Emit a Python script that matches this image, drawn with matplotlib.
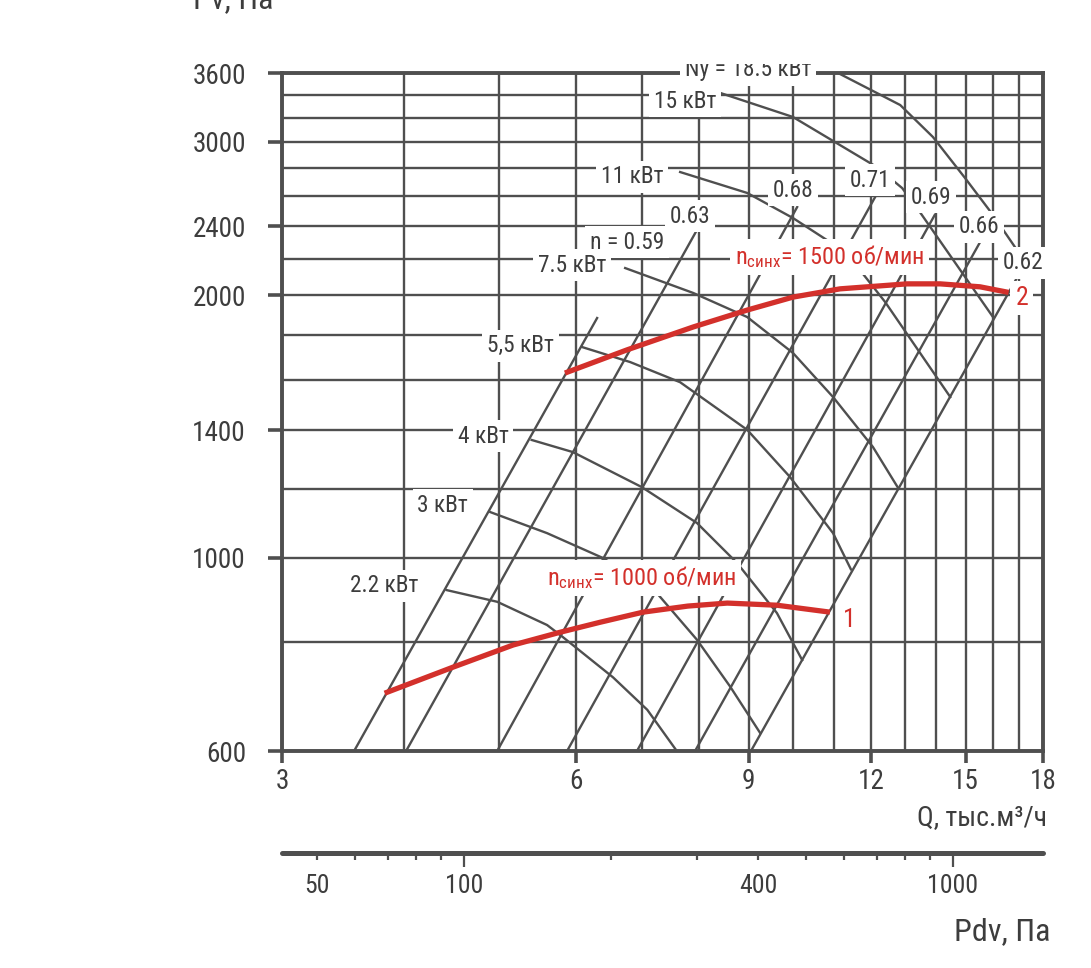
"""
Fan performance chart: Pv vs Q for n = 1000 and 1500 rpm,
with efficiency rays, motor power lines and a Pdv scale below.
"""
import matplotlib
matplotlib.use("Agg")
import matplotlib.pyplot as plt
from matplotlib.ticker import NullFormatter
from matplotlib.transforms import Bbox, TransformedBbox

FONTS = ["Roboto Condensed", "Liberation Sans Narrow", "Roboto", "DejaVu Sans"]
plt.rcParams.update({
    "font.family": FONTS,
    "mathtext.fontset": "custom",
    "mathtext.rm": "Roboto Condensed",
    "mathtext.it": "Roboto Condensed",
    "mathtext.default": "regular",
})

W, H = 1091, 968
GRAY = "#4f4f4f"
TEXT = "#3d3d3d"
RED = "#d3302b"

# axes, ticks and grid
Q_LIM = (3, 18)
P_LIM = (600, 3600)
Q_TICKS = [3, 6, 9, 12, 15, 18]
Q_GRID = [4, 5, 7, 8, 10, 11, 13, 14, 16, 17]
P_TICKS = [600, 1000, 1400, 2000, 2400, 3000, 3600]
P_GRID = [800, 1200, 1600, 1800, 2200, 2600, 2800, 3200, 3400]

# dynamic pressure scale (Pdv = k * Q^2)
PDV_K = 4.72
PDV_MAJOR = [100, 1000]
PDV_MINOR = [50, 60, 70, 80, 90, 200, 300, 400, 500, 600, 700, 800, 900]
PDV_MINOR_LABELS = ["50", "", "", "", "", "", "", "400", "", "", "", "", ""]

# fan curves
N1000_Q = [3.82, 4.49, 5.17, 5.77, 6.34, 7.02, 7.8, 8.56, 9.62, 10.9]
N1000_P = [699, 749, 794, 821, 843, 866, 880, 887, 882, 866]
N1500_Q = [5.84, 6.76, 7.90, 8.97, 9.99, 11.16, 13.07, 14.13, 15.52, 16.6]
N1500_P = [1629, 1732, 1840, 1924, 1991, 2035, 2062, 2062, 2046, 2016]

# efficiency rays: start at 600 Pa, end at (Q1, P1)
ETA_LABELS = ["η = 0.59", "0.63", "0.68", "0.71", "0.69", "0.66", "0.62"]
RAY_Q0 = [3.555, 4.018, 4.979, 5.870, 6.920, 7.934, 9.05]
RAY_Q1 = [6.30, 7.97, 10.09, 12.17, 13.95, 15.63, 17.01]
RAY_P1 = [1884, 2378, 2526, 2614, 2474, 2335, 2115]
ETA_LABEL_Q = [6.76, 7.84, 9.99, 11.98, 13.83, 15.49, 17.17]
ETA_LABEL_P = [2303, 2466, 2642, 2713, 2594, 2397, 2179]

# motor power lines
POWER_LABELS = ["2.2 кВт", "3 кВт", "4 кВт", "5,5 кВт", "7.5 кВт",
                "11 кВт", "15 кВт", "Ny = 18.5 кВт"]
POWER_Q = [
    [4.42, 4.98, 5.60, 5.81, 6.54, 7.09, 7.60],
    [4.90, 5.60, 6.39, 7.25, 7.97, 8.62, 9.25],
    [5.40, 5.95, 7.00, 7.97, 8.76, 9.62, 10.21],
    [6.08, 6.81, 7.66, 8.97, 9.92, 10.98, 11.45],
    [6.73, 7.90, 8.97, 9.99, 10.98, 12.06, 12.80],
    [7.66, 8.97, 9.99, 10.90, 11.70, 12.41, 14.47],
    [8.42, 9.99, 12.17, 12.92, 13.38, 16.00],
    [11.11, 12.86, 13.89, 14.98, 16.00, 16.93],
]
POWER_P = [
    [918, 890, 837, 811, 729, 669, 600],
    [1128, 1067, 999, 911, 805, 711, 629],
    [1365, 1322, 1205, 1096, 986, 864, 763],
    [1745, 1677, 1590, 1402, 1238, 1067, 970],
    [2150, 2013, 1889, 1718, 1529, 1340, 1202],
    [2771, 2622, 2454, 2303, 2138, 1966, 1529],
    [3415, 3205, 2808, 2656, 2520, 1889],
    [3600, 3308, 3040, 2728, 2474, 2255],
]
POWER_LABEL_Q = [3.82, 4.38, 4.82, 5.26, 5.94, 6.84, 7.75, 8.99]
POWER_LABEL_P = [928, 1149, 1379, 1750, 2167, 2735, 3343, 3629]


def label(ax, q, p, s, color=TEXT, size=16.8):
    return ax.text(q, p, s, ha="center", va="center", fontsize=size,
                   color=color, zorder=6, clip_on=False,
                   bbox=dict(boxstyle="square,pad=0.2", fc="white", ec="none"))


fig = plt.figure(figsize=(W / 100, H / 100), dpi=100)
fig.patch.set_facecolor("white")
ax = fig.add_axes([282 / W, 1 - 751 / H, (1043 - 282) / W, (751 - 73) / H])
ax.set_xscale("log")
ax.set_yscale("log")
ax.set_xlim(*Q_LIM)
ax.set_ylim(*P_LIM)

ax.set_xticks(Q_TICKS, labels=[str(v) for v in Q_TICKS])
ax.set_xticks(Q_GRID, minor=True)
ax.set_yticks(P_TICKS, labels=[str(v) for v in P_TICKS])
ax.set_yticks(P_GRID, minor=True)
ax.xaxis.set_minor_formatter(NullFormatter())
ax.yaxis.set_minor_formatter(NullFormatter())
ax.grid(which="both", color=GRAY, lw=1.7)
ax.set_axisbelow(True)
ax.tick_params(which="minor", length=0)
ax.tick_params(axis="y", which="major", length=10, width=2.6, color=GRAY,
               pad=16, labelsize=19.5, labelcolor=TEXT)
ax.tick_params(axis="x", which="major", length=8.5, width=2.6, color=GRAY,
               pad=4, labelsize=19.5, labelcolor=TEXT)
for s in ax.spines.values():
    s.set_linewidth(2.8)
    s.set_color(GRAY)

# efficiency rays
for q0, q1, p1 in zip(RAY_Q0, RAY_Q1, RAY_P1):
    ax.plot([q0, q1], [P_LIM[0], p1], color=GRAY, lw=1.7, zorder=2)

# power lines
for q, p in zip(POWER_Q, POWER_P):
    ax.plot(q, p, color=GRAY, lw=1.7, zorder=2)

# fan curves
ax.plot(N1000_Q, N1000_P, color=RED, lw=3.8, zorder=3, solid_capstyle="butt")
ax.plot(N1500_Q, N1500_P, color=RED, lw=3.8, zorder=3, solid_capstyle="butt")

for q, p, s in zip(ETA_LABEL_Q, ETA_LABEL_P, ETA_LABELS):
    label(ax, q, p, s)
for q, p, s in zip(POWER_LABEL_Q, POWER_LABEL_P, POWER_LABELS):
    t = label(ax, q, p, s)
# the top label is cut off above, as in the source sheet
t.set_clip_path(None)
t.set_clip_box(TransformedBbox(Bbox.from_extents(0, 0, 1, 1 - 64 / H),
                               fig.transFigure))
t.set_clip_on(True)

label(ax, 7.00, 948, r"n$_{синх}$= 1000 об/мин", color=RED, size=17.5)
label(ax, 10.90, 2214, r"n$_{синх}$= 1500 об/мин", color=RED, size=17.5)
label(ax, 11.40, 848, "1", color=RED, size=18.5)
label(ax, 17.13, 1987, "2", color=RED, size=18.5)

# axis titles
fig.text(1047 / W, 1 - 818 / H, "Q, тыс.м³/ч", ha="right", va="center",
         fontsize=20, color=TEXT)
fig.text(1051 / W, 1 - 932 / H, "Pdv, Па", ha="right", va="center",
         fontsize=23, color=TEXT)
fig.text(193 / W, 1 - 8 / H, "Pv, Па", ha="left", va="baseline",
         fontsize=23, color=TEXT)

# Pdv scale
ax2 = fig.add_axes([282 / W, 1 - 853 / H, (1043 - 282) / W, 1e-4])
ax2.set_xscale("log")
ax2.set_xlim(*Q_LIM)
ax2.set_yticks([])
ax2.patch.set_visible(False)
for side in ["top", "left", "right"]:
    ax2.spines[side].set_visible(False)
ax2.spines["bottom"].set_linewidth(3.6)
ax2.spines["bottom"].set_color(GRAY)
ax2.spines["bottom"].set_capstyle("round")
ax2.set_xticks([(v / PDV_K) ** 0.5 for v in PDV_MAJOR],
               labels=[str(v) for v in PDV_MAJOR])
ax2.set_xticks([(v / PDV_K) ** 0.5 for v in PDV_MINOR],
               labels=PDV_MINOR_LABELS, minor=True)
ax2.tick_params(which="major", length=10, width=1.6, pad=5, labelsize=18.5,
                color=GRAY, labelcolor=TEXT)
ax2.tick_params(which="minor", length=5, width=1.6, pad=10, labelsize=18.5,
                color=GRAY, labelcolor=TEXT)

fig.savefig("out.png", dpi=100)
